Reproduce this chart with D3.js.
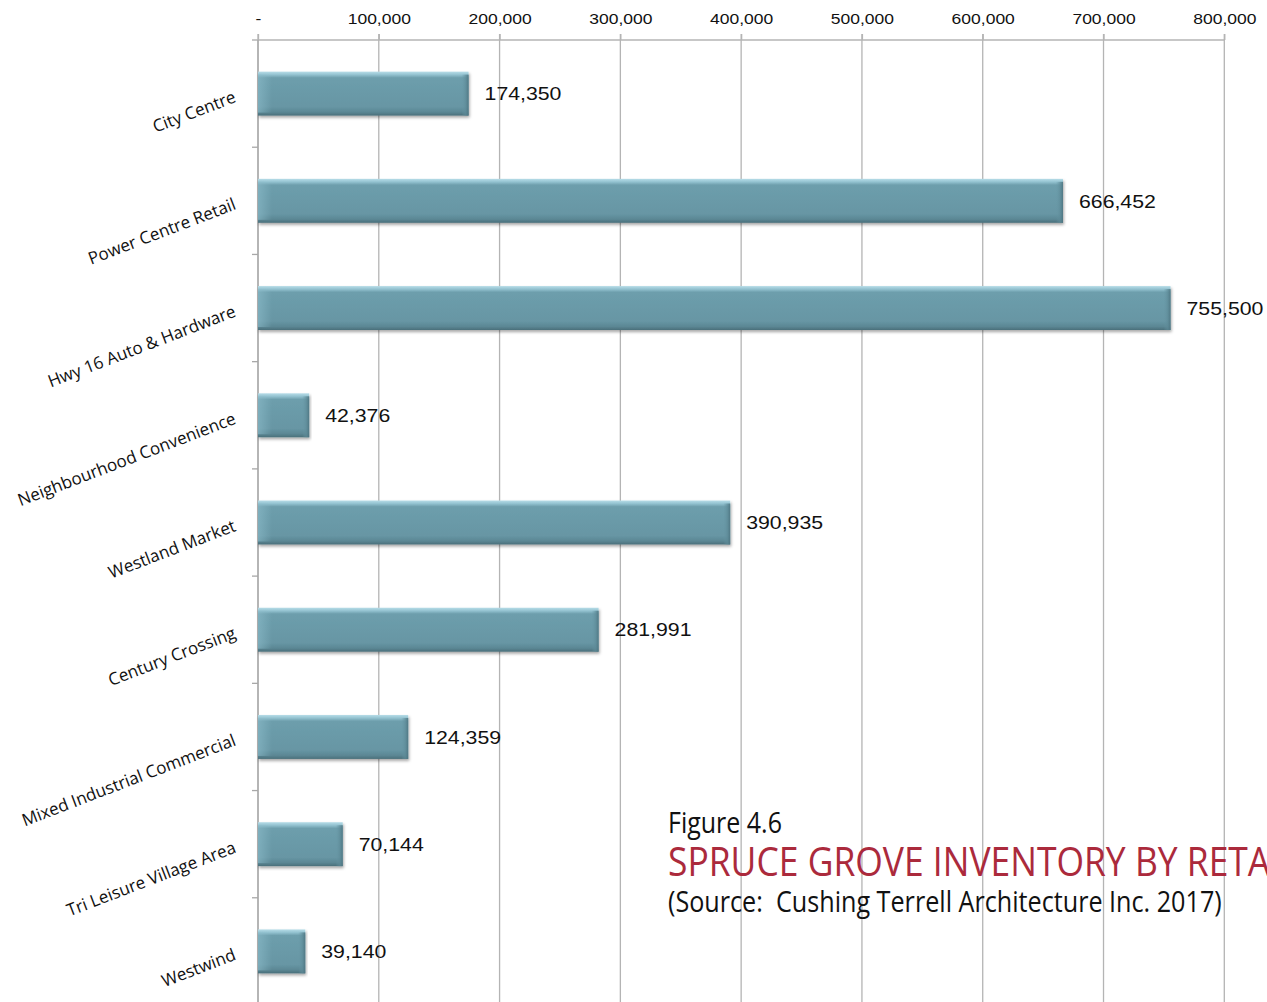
<!DOCTYPE html>
<html>
<head>
<meta charset="utf-8">
<script src="https://cdn.jsdelivr.net/npm/d3@7"></script>
<style>
  html, body { margin: 0; padding: 0; background: #fff; overflow: hidden; }
  svg { display: block; }
</style>
</head>
<body>
<svg id="chart" width="1267" height="1002"></svg>
<script>
// Retail inventory (sq ft) by retail node
const categories = [
  "City Centre",
  "Power Centre Retail",
  "Hwy 16 Auto & Hardware",
  "Neighbourhood Convenience",
  "Westland Market",
  "Century Crossing",
  "Mixed Industrial Commercial",
  "Tri Leisure Village Area",
  "Westwind"
];
const areas = [174350, 666452, 755500, 42376, 390935, 281991, 124359, 70144, 39140];
const tickValues = [0, 100000, 200000, 300000, 400000, 500000, 600000, 700000, 800000];
const captionFigure = "Figure 4.6";
const captionTitle = "SPRUCE GROVE INVENTORY BY RETAIL NODE";
const captionSource = "(Source:  Cushing Terrell Architecture Inc. 2017)";

const W = 1267, H = 1002;
const svg = d3.select("#chart");

const x = d3.scaleLinear().domain([0, 800000]).range([258, 1224.3]);
const y = d3.scaleBand().domain(categories).range([40, 1005])
  .paddingInner(0.59).paddingOuter(0.295);

const fmt = d3.format(",");
const tickLabel = v => v === 0 ? "-" : fmt(v);

// defs: bar bevel gradients and soft shadow
const defs = svg.append("defs");
const g1 = defs.append("linearGradient").attr("id", "barFill")
  .attr("x1", 0).attr("y1", 0).attr("x2", 0).attr("y2", 1);
[["0%", "#b7dde8"], ["7%", "#93c2d0"], ["14%", "#6d9eac"], ["80%", "#6796a4"],
 ["92%", "#5b8794"], ["100%", "#4a6f7a"]]
  .forEach(([o, c]) => g1.append("stop").attr("offset", o).attr("stop-color", c));
const g2 = defs.append("linearGradient").attr("id", "barEnd")
  .attr("x1", 0).attr("y1", 0).attr("x2", 1).attr("y2", 0);
[["0%", "#6796a4", 0], ["60%", "#5d8a97", 0.7], ["100%", "#4d7480", 0.9]]
  .forEach(([o, c, a]) => g2.append("stop").attr("offset", o).attr("stop-color", c).attr("stop-opacity", a));
const g3 = defs.append("linearGradient").attr("id", "barStart")
  .attr("x1", 0).attr("y1", 0).attr("x2", 1).attr("y2", 0);
[["0%", "#8cbcca", 0.6], ["100%", "#8cbcca", 0]]
  .forEach(([o, c, a]) => g3.append("stop").attr("offset", o).attr("stop-color", c).attr("stop-opacity", a));
const shadow = defs.append("filter").attr("id", "shadow")
  .attr("x", "-5%").attr("y", "-20%").attr("width", "110%").attr("height", "160%");
shadow.append("feDropShadow").attr("dx", 1).attr("dy", 2)
  .attr("stdDeviation", 1.4).attr("flood-color", "#000").attr("flood-opacity", 0.35);

// gridlines
svg.append("g").attr("class", "grid")
  .selectAll("line").data(tickValues).join("line")
  .attr("x1", d => x(d)).attr("x2", d => x(d))
  .attr("y1", 34).attr("y2", H)
  .attr("stroke", "#b4b4b4").attr("stroke-width", 1.3);

// top value axis
const topAxis = svg.append("g").attr("transform", "translate(0,40)")
  .call(d3.axisTop(x).tickValues(tickValues).tickFormat(tickLabel).tickSize(6).tickPadding(10));
topAxis.select(".domain").remove();
topAxis.selectAll(".tick line").attr("stroke", "#b4b4b4").attr("stroke-width", 1.3);
topAxis.selectAll(".tick text")
  .attr("font-family", "'Liberation Sans', Arial, sans-serif")
  .attr("font-size", 15.5).attr("fill", "#111")
  .attr("transform", "scale(1.13,1)");
svg.append("line").attr("x1", 252).attr("x2", x(800000)).attr("y1", 40).attr("y2", 40)
  .attr("stroke", "#b4b4b4").attr("stroke-width", 1.3);

// category axis
svg.append("line").attr("x1", 258).attr("x2", 258).attr("y1", 40).attr("y2", H)
  .attr("stroke", "#a8a8a8").attr("stroke-width", 1.3);
const gap = (y.step() - y.bandwidth()) / 2;
svg.append("g").selectAll("line").data(categories.slice(1)).join("line")
  .attr("x1", 252).attr("x2", 258)
  .attr("y1", d => y(d) - gap).attr("y2", d => y(d) - gap)
  .attr("stroke", "#a8a8a8").attr("stroke-width", 1.3);

svg.append("g").selectAll("text").data(categories).join("text")
  .attr("transform", d => `translate(237,${y(d) + y.bandwidth() / 2 + 8}) rotate(-21)`)
  .attr("text-anchor", "end")
  .attr("font-family", "'Open Sans', 'Noto Sans', sans-serif")
  .attr("font-size", 17).attr("fill", "#111")
  .text(d => d);

// bars
const data = categories.map((c, i) => ({ c, v: areas[i] }));
const bars = svg.append("g").selectAll("g").data(data).join("g");
bars.append("rect")
  .attr("x", x(0)).attr("y", d => y(d.c))
  .attr("width", d => x(d.v) - x(0)).attr("height", y.bandwidth())
  .attr("fill", "url(#barFill)").attr("filter", "url(#shadow)");
bars.append("rect")
  .attr("x", d => x(d.v) - 7).attr("y", d => y(d.c) + 3)
  .attr("width", 7).attr("height", y.bandwidth() - 3)
  .attr("fill", "url(#barEnd)");
bars.append("rect")
  .attr("x", x(0)).attr("y", d => y(d.c) + 3)
  .attr("width", 14).attr("height", y.bandwidth() - 6)
  .attr("fill", "url(#barStart)");

// value labels
bars.append("text")
  .attr("transform", d => `translate(${x(d.v) + 16},${y(d.c) + y.bandwidth() / 2}) scale(1.15,1)`)
  .attr("dy", "0.36em")
  .attr("font-family", "'Liberation Sans', Arial, sans-serif")
  .attr("font-size", 18.5).attr("fill", "#111")
  .text(d => fmt(d.v));

// caption block
const cap = svg.append("g").attr("font-family", "'Open Sans', 'Noto Sans', sans-serif");
const keepSpaces = s => s.replace(/  /g, " \u00a0");
function fitText(sel, target, measureText) {
  // stretch horizontally so the given run of text spans the target width
  let w;
  if (measureText) {
    const tmp = cap.append("text").attr("font-size", sel.attr("font-size")).text(measureText);
    w = tmp.node().getComputedTextLength();
    tmp.remove();
  } else {
    w = sel.node().getComputedTextLength();
  }
  const sx = target / w;
  const tx = +sel.attr("data-x"), ty = +sel.attr("data-y");
  sel.attr("transform", `translate(${tx},${ty}) scale(${sx},1)`);
}
const fig = cap.append("text").attr("data-x", 668).attr("data-y", 833)
  .attr("font-size", 29).attr("fill", "#111").text(captionFigure);
fitText(fig, 114);
const ttl = cap.append("text").attr("data-x", 668).attr("data-y", 876)
  .attr("font-size", 41).attr("fill", "#ab2a3c").text(captionTitle);
fitText(ttl, 580, "SPRUCE GROVE INVENTORY BY RET");
const src = cap.append("text").attr("data-x", 668).attr("data-y", 912)
  .attr("font-size", 29).attr("fill", "#111").text(keepSpaces(captionSource));
fitText(src, 554);
</script>
</body>
</html>
